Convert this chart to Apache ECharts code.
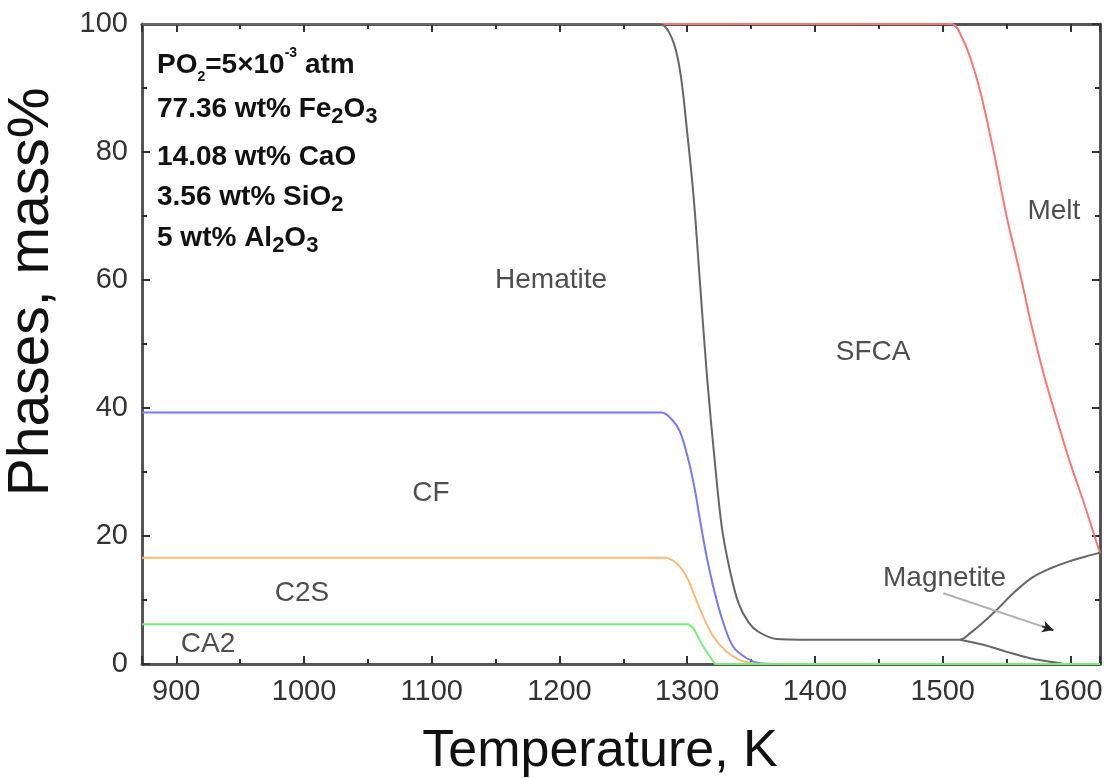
<!DOCTYPE html>
<html>
<head>
<meta charset="utf-8">
<script src="https://cdn.jsdelivr.net/npm/echarts@6/dist/echarts.min.js"></script>
<style>
html,body{margin:0;padding:0;background:#fff;}
#chart{width:1114px;height:778px;}
</style>
</head>
<body>
<div id="chart"></div>
<script>
// ---- axis ranges and tick labels ----
const xRange = [873.15, 1623.15];
const yRange = [0, 100];
const xTickLabels = [900, 1000, 1100, 1200, 1300, 1400, 1500, 1600];
const yTickLabels = [0, 20, 40, 60, 80, 100];

// ---- phase boundary curves (T in K, mass%) ----
const hematiteT = [873.15, 1262, 1278.7, 1288, 1294.3, 1300, 1305, 1310, 1315.7, 1321.7, 1327, 1333, 1340, 1348, 1356, 1370, 1390, 1500, 1513.6, 1522, 1530, 1542, 1556, 1570, 1585, 1600, 1612, 1623.15];
const hematiteV = [100, 100, 100, 97.8, 92.8, 83, 73, 59.5, 44.4, 31.4, 21.5, 15, 9.6, 6.5, 5.0, 3.9, 3.8, 3.8, 3.8, 4.9, 6.2, 8.4, 11.2, 13.5, 15.0, 16.1, 16.8, 17.4];

const magnetiteLowT = [1513.6, 1531.8, 1550.1, 1568.4, 1584, 1595];
const magnetiteLowV = [3.8, 3.0, 1.9, 0.9, 0.36, 0];

const meltT = [873.15, 1492, 1507, 1516, 1523, 1530, 1540, 1550, 1560, 1570, 1580, 1590, 1600, 1610, 1623.15];
const meltV = [100, 100, 100, 97.5, 93.9, 89, 80, 70, 61.5, 52.5, 44.6, 37.8, 31.3, 25.5, 17.3];

const cfT = [873.15, 1265, 1280, 1288, 1294.3, 1300.9, 1306, 1310, 1315.2, 1321.7, 1328.3, 1336, 1346.6, 1357, 1368, 1380];
const cfV = [39.3, 39.3, 39.3, 38.2, 36.3, 31.9, 27.2, 22.5, 16.8, 11, 6.4, 2.7, 0.9, 0.1, 0, 0];

const c2sT = [873.15, 1268, 1282.6, 1291.8, 1299.6, 1306.1, 1312.6, 1320.4, 1330.9, 1341.3, 1349, 1358, 1370];
const c2sV = [16.6, 16.6, 16.6, 15.7, 13.6, 10.5, 7.4, 4.3, 1.9, 0.6, 0.2, 0, 0];

const ca2T = [873.15, 1300.9, 1304.8, 1312.6, 1321.7, 1623.15];
const ca2V = [6.2, 6.2, 5.6, 2.7, 0, 0];

// ---- region labels ----
const phaseLabels = ['Hematite', 'SFCA', 'Melt', 'CF', 'C2S', 'CA2', 'Magnetite'];
const phaseLabelT = [1193.4, 1445.5, 1587, 1099.4, 998.4, 924.8, 1501.4];
const phaseLabelV = [60, 48.75, 70.8, 26.7, 11.1, 3.1, 13.4];

// magnetite arrow (start, end)
const arrowT = [1500.5, 1586.6];
const arrowV = [11.05, 5.3];

// composition note lines (rich text)
const noteLines = [
  '{n|PO}{ss|2}{n|=5×10}{sp|-3}{n| atm}',
  '{n|77.36 wt% Fe}{sb|2}{n|O}{sb|3}',
  '{n|14.08 wt% CaO}',
  '{n|3.56 wt% SiO}{sb|2}',
  '{n|5 wt% Al}{sb|2}{n|O}{sb|3}'
];
const noteY = [65, 109, 157, 197, 238];

const zip = (a, b) => a.map((v, i) => [v, b[i]]);
const FONT = '"Liberation Sans", Arial, sans-serif';

const chart = echarts.init(document.getElementById('chart'), null, {renderer: 'canvas'});

const axisLineStyle = {color: '#555', width: 3};
const tickStyle = {color: '#333', width: 2};

function lineSeries(name, data, color, smooth) {
  return {
    type: 'line', name: name, data: data, showSymbol: false, symbol: 'none',
    smooth: smooth ? 0.35 : false, clip: false,
    lineStyle: {color: color, width: 2}, silent: true, z: 3
  };
}

const richNote = {
  n: {fontSize: 28, lineHeight: 38, fontFamily: FONT, fontWeight: 'bold', color: '#111'},
  sb: {fontSize: 22, lineHeight: 22, verticalAlign: 'bottom', fontFamily: FONT, fontWeight: 'bold', color: '#111'},
  ss: {fontSize: 14, lineHeight: 26, verticalAlign: 'bottom', fontFamily: FONT, fontWeight: 'bold', color: '#111'},
  sp: {fontSize: 14, lineHeight: 14, verticalAlign: 'top', fontFamily: FONT, fontWeight: 'bold', color: '#111'}
};

const option = {
  animation: false,
  backgroundColor: '#ffffff',
  grid: {left: 142, right: 14, top: 24, bottom: 114, containLabel: false, outerBoundsMode: 'none'},
  xAxis: [{
    type: 'value', min: xRange[0], max: xRange[1], splitNumber: 8, position: 'bottom',
    axisLine: {show: true, onZero: false, lineStyle: axisLineStyle},
    axisTick: {show: true, inside: true, length: 8, lineStyle: tickStyle},
    minorTick: {show: true, splitNumber: 2, length: 5, lineStyle: tickStyle},
    splitLine: {show: false}, minorSplitLine: {show: false},
    axisLabel: {
      show: true, margin: 13, fontSize: 29, color: '#333', fontFamily: FONT,
      formatter: v => xTickLabels.indexOf(Math.round(v * 100) / 100) >= 0 ? String(v) : ''
    },
    name: 'Temperature, K', nameLocation: 'middle', nameGap: 62, nameMoveOverlap: false,
    nameTextStyle: {fontSize: 52, color: '#111', fontFamily: FONT, padding: [0, 42, 0, 0]}
  }, {
    type: 'value', min: xRange[0], max: xRange[1], splitNumber: 8, position: 'top',
    axisLine: {show: true, onZero: false, lineStyle: axisLineStyle},
    axisTick: {show: true, inside: true, length: 8, lineStyle: tickStyle},
    minorTick: {show: true, splitNumber: 2, length: 5, lineStyle: tickStyle},
    splitLine: {show: false}, axisLabel: {show: false}
  }],
  yAxis: [{
    type: 'value', min: yRange[0], max: yRange[1], interval: 20, position: 'left',
    axisLine: {show: true, onZero: false, lineStyle: axisLineStyle},
    axisTick: {show: true, inside: true, length: 8, lineStyle: tickStyle},
    minorTick: {show: true, splitNumber: 2, length: 5, lineStyle: tickStyle},
    splitLine: {show: false}, minorSplitLine: {show: false},
    axisLabel: {
      show: true, margin: 14, fontSize: 29, color: '#333', fontFamily: FONT,
      formatter: v => yTickLabels.indexOf(v) >= 0 ? String(v) : ''
    },
    name: 'Phases, mass%', nameLocation: 'middle', nameGap: 81, nameMoveOverlap: false,
    nameTextStyle: {fontSize: 57, color: '#111', fontFamily: FONT, padding: [0, 0, 0, 104]}
  }, {
    type: 'value', min: yRange[0], max: yRange[1], interval: 20, position: 'right',
    axisLine: {show: true, onZero: false, lineStyle: axisLineStyle},
    axisTick: {show: true, inside: true, length: 8, lineStyle: tickStyle},
    minorTick: {show: true, splitNumber: 2, length: 5, lineStyle: tickStyle},
    splitLine: {show: false}, axisLabel: {show: false}
  }],
  series: [
    lineSeries('Melt', zip(meltT, meltV), '#ff7474', true),
    lineSeries('Hematite', zip(hematiteT, hematiteV), '#666666', true),
    lineSeries('Magnetite', zip(magnetiteLowT, magnetiteLowV), '#666666', true),
    lineSeries('CF', zip(cfT, cfV), '#7878ff', true),
    lineSeries('C2S', zip(c2sT, c2sV), '#ffb877', true),
    Object.assign(lineSeries('CA2', zip(ca2T, ca2V), '#77ee77', false), {
      markLine: {
        silent: true, animation: false, label: {show: false},
        data: [
          [{coord: [arrowT[0], arrowV[0]], symbol: 'none', lineStyle: {color: '#b0b0b0', width: 2, type: 'solid'}},
           {coord: [arrowT[1], arrowV[1]], symbol: 'none'}],
          [{coord: [arrowT[1] - 0.1 * (arrowT[1] - arrowT[0]), arrowV[1] - 0.1 * (arrowV[1] - arrowV[0])], symbol: 'none', lineStyle: {color: '#222', width: 2, type: 'solid'}},
           {coord: [arrowT[1], arrowV[1]], symbol: 'arrow', symbolSize: [9, 11]}]
        ]
      }
    }),
    {
      type: 'scatter', name: 'labels', silent: true, symbolSize: 0, z: 5,
      data: phaseLabels.map((n, i) => [phaseLabelT[i], phaseLabelV[i], n]),
      label: {
        show: true, position: 'inside', formatter: p => p.data[2],
        fontSize: 28, color: '#222', fontFamily: FONT
      }
    }
  ],
  graphic: noteLines.map((t, i) => ({
    type: 'text', x: 157, y: noteY[i], silent: true, z: 10,
    style: {
      text: t, rich: richNote, verticalAlign: 'middle', align: 'left',
      font: 'bold 28px ' + FONT, fill: '#111'
    }
  }))
};

chart.setOption(option);
</script>
</body>
</html>
